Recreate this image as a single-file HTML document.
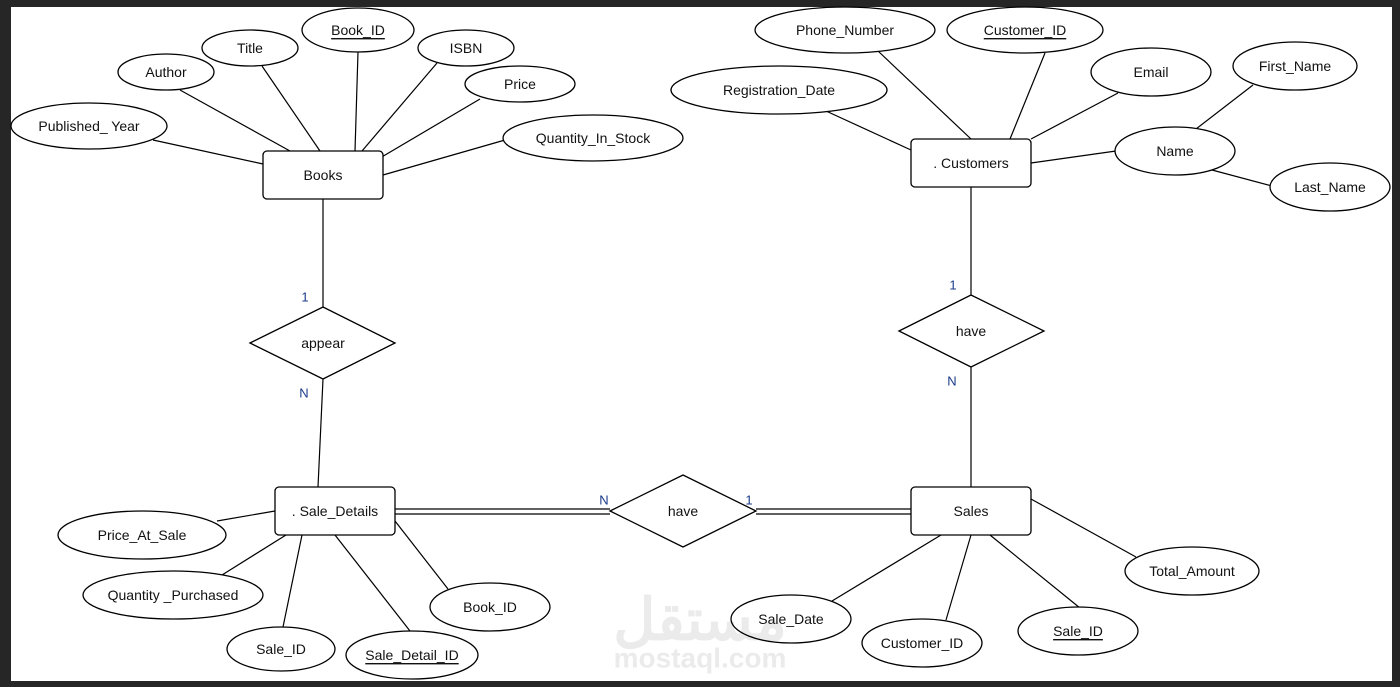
<!DOCTYPE html>
<html><head><meta charset="utf-8"><style>
html,body{margin:0;padding:0;background:#262626;}
svg{display:block}
text{font-family:"Liberation Sans",Arial,sans-serif;font-size:14px;fill:#111;text-anchor:middle;dominant-baseline:central}
.s{fill:#fff;stroke:#000;stroke-width:1.3}
line{stroke:#000;stroke-width:1.2}
.c{fill:#1a3a8a;font-size:13px}
</style></head><body>
<svg width="1400" height="687" viewBox="0 0 1400 687">
<rect x="0" y="0" width="1400" height="687" fill="#262626"/>
<rect x="11" y="7" width="1381" height="674" fill="#fff"/>
<!-- watermark -->
<text x="700" y="620" style="font-size:58px;font-weight:bold;fill:#ebebeb">مستقل</text>
<text x="700" y="658" style="font-size:28px;font-weight:bold;fill:#ebebeb">mostaql.com</text>
<!-- lines Books -->
<line x1="180" y1="90" x2="290" y2="151"/>
<line x1="262" y1="66" x2="320" y2="151"/>
<line x1="358" y1="52" x2="355" y2="151"/>
<line x1="437" y1="63" x2="362" y2="151"/>
<line x1="480" y1="99" x2="380" y2="158"/>
<line x1="153" y1="140" x2="263" y2="164"/>
<line x1="505" y1="140" x2="383" y2="175"/>
<line x1="323" y1="199" x2="323" y2="307"/>
<line x1="323" y1="379" x2="318" y2="487"/>
<!-- Customers -->
<line x1="878" y1="51" x2="971" y2="139"/>
<line x1="1045" y1="53" x2="1010" y2="139"/>
<line x1="1118" y1="93" x2="1031" y2="139"/>
<line x1="826" y1="111" x2="911" y2="150"/>
<line x1="1116" y1="151" x2="1031" y2="163"/>
<line x1="1253" y1="85" x2="1196" y2="129"/>
<line x1="1212" y1="170" x2="1272" y2="186"/>
<line x1="971" y1="187" x2="971" y2="295"/>
<line x1="971" y1="367" x2="971" y2="487"/>
<!-- double lines -->
<line x1="395" y1="509" x2="610" y2="509"/><line x1="395" y1="514" x2="610" y2="514"/>
<line x1="756" y1="509" x2="911" y2="509"/><line x1="756" y1="514" x2="911" y2="514"/>
<!-- Sale details -->
<line x1="217" y1="521" x2="275" y2="511"/>
<line x1="222" y1="575" x2="286" y2="535"/>
<line x1="283" y1="627" x2="302" y2="535"/>
<line x1="410" y1="631" x2="335" y2="535"/>
<line x1="448" y1="589" x2="395" y2="521"/>
<!-- Sales -->
<line x1="832" y1="601" x2="941" y2="535"/>
<line x1="946" y1="620" x2="971" y2="535"/>
<line x1="1080" y1="608" x2="990" y2="535"/>
<line x1="1136" y1="557" x2="1031" y2="499"/>
<!-- ellipses -->
<ellipse class="s" cx="166" cy="72" rx="48" ry="18"/><text x="166" y="72">Author</text>
<ellipse class="s" cx="250" cy="48" rx="48" ry="18"/><text x="250" y="48">Title</text>
<ellipse class="s" cx="358" cy="30" rx="56" ry="22"/><text x="358" y="30" text-decoration="underline">Book_ID</text>
<ellipse class="s" cx="466" cy="48" rx="48" ry="18"/><text x="466" y="48">ISBN</text>
<ellipse class="s" cx="520" cy="84" rx="55" ry="18"/><text x="520" y="84">Price</text>
<ellipse class="s" cx="89" cy="126" rx="78" ry="23"/><text x="89" y="126">Published_ Year</text>
<ellipse class="s" cx="593" cy="138" rx="90" ry="23"/><text x="593" y="138">Quantity_In_Stock</text>
<rect class="s" x="263" y="151" width="120" height="48" rx="4"/><text x="323" y="175">Books</text>
<ellipse class="s" cx="845" cy="30" rx="90" ry="23"/><text x="845" y="30">Phone_Number</text>
<ellipse class="s" cx="1025" cy="30" rx="78" ry="23"/><text x="1025" y="30" text-decoration="underline">Customer_ID</text>
<ellipse class="s" cx="1151" cy="72" rx="60" ry="24"/><text x="1151" y="72">Email</text>
<ellipse class="s" cx="779" cy="90" rx="108" ry="24"/><text x="779" y="90">Registration_Date</text>
<ellipse class="s" cx="1295" cy="66" rx="62" ry="24"/><text x="1295" y="66">First_Name</text>
<ellipse class="s" cx="1175" cy="151" rx="60" ry="24"/><text x="1175" y="151">Name</text>
<ellipse class="s" cx="1330" cy="187" rx="60" ry="24"/><text x="1330" y="187">Last_Name</text>
<rect class="s" x="911" y="139" width="120" height="48" rx="4"/><text x="971" y="163">. Customers</text>
<polygon class="s" points="250,343 323,307 395,343 323,379"/><text x="323" y="343">appear</text>
<polygon class="s" points="899,331 971,295 1044,331 971,367"/><text x="971" y="331">have</text>
<polygon class="s" points="610,511 683,475 756,511 683,547"/><text x="683" y="511">have</text>
<rect class="s" x="275" y="487" width="120" height="48" rx="4"/><text x="335" y="511">. Sale_Details</text>
<rect class="s" x="911" y="487" width="120" height="48" rx="4"/><text x="971" y="511">Sales</text>
<ellipse class="s" cx="142" cy="535" rx="84" ry="24"/><text x="142" y="535">Price_At_Sale</text>
<ellipse class="s" cx="173" cy="595" rx="90" ry="24"/><text x="173" y="595">Quantity _Purchased</text>
<ellipse class="s" cx="281" cy="649" rx="54" ry="22"/><text x="281" y="649">Sale_ID</text>
<ellipse class="s" cx="412" cy="655" rx="66" ry="24"/><text x="412" y="655" text-decoration="underline">Sale_Detail_ID</text>
<ellipse class="s" cx="490" cy="607" rx="60" ry="24"/><text x="490" y="607">Book_ID</text>
<ellipse class="s" cx="791" cy="619" rx="60" ry="24" style="fill:none"/><text x="791" y="619">Sale_Date</text>
<ellipse class="s" cx="922" cy="643" rx="60" ry="24"/><text x="922" y="643">Customer_ID</text>
<ellipse class="s" cx="1078" cy="631" rx="60" ry="24"/><text x="1078" y="631" text-decoration="underline">Sale_ID</text>
<ellipse class="s" cx="1192" cy="571" rx="67" ry="24"/><text x="1192" y="571">Total_Amount</text>
<!-- cardinalities -->
<text class="c" x="305" y="297">1</text>
<text class="c" x="304" y="393">N</text>
<text class="c" x="953" y="285">1</text>
<text class="c" x="952" y="381">N</text>
<text class="c" x="604" y="500">N</text>
<text class="c" x="749" y="500">1</text>
</svg>
</body></html>
